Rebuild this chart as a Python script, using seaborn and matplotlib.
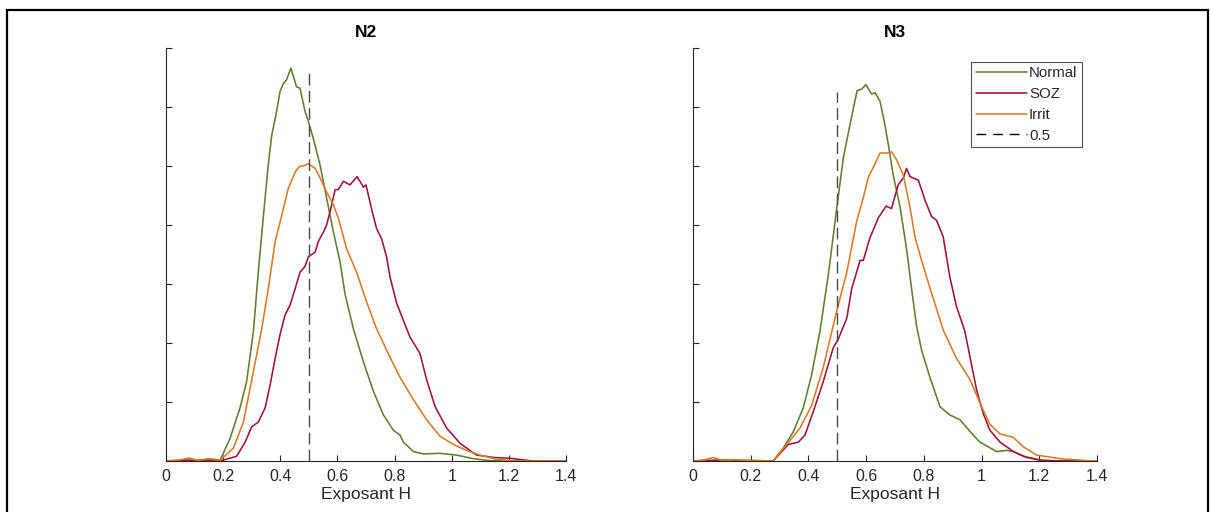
import matplotlib
matplotlib.use("Agg")
import matplotlib.pyplot as plt
import seaborn as sns
import pandas as pd
from matplotlib.patches import Rectangle
from matplotlib.lines import Line2D

sns.set_theme(style="white")
plt.rcParams['font.family'] = ['Liberation Sans', 'DejaVu Sans']

# ---------------- data ----------------
panels = ["N2", "N3"]
series = ["Normal", "SOZ", "Irrit"]
colors = {"Normal": "#5E8030", "SOZ": "#A3113E", "Irrit": "#DB7A26"}

# N2
n2_normal_x = [0, 0.05, 0.08, 0.11, 0.15, 0.19, 0.224, 0.259, 0.282, 0.306, 0.323, 0.341, 0.358, 0.370, 0.387,
               0.399, 0.411, 0.422, 0.437, 0.457, 0.469, 0.487, 0.498, 0.516, 0.539, 0.562, 0.586, 0.609,
               0.627, 0.656, 0.691, 0.726, 0.761, 0.796, 0.819, 0.831, 0.866, 0.901, 0.959, 1.017, 1.076,
               1.134, 1.2, 1.4]
n2_normal_y = [0, 0.005, 0.02, 0.005, 0.015, 0.01, 0.19, 0.45, 0.67, 1.10, 1.60, 2.08, 2.51, 2.76, 2.96,
               3.13, 3.20, 3.23, 3.33, 3.17, 3.16, 2.96, 2.88, 2.73, 2.51, 2.23, 1.94, 1.69,
               1.41, 1.12, 0.84, 0.59, 0.39, 0.26, 0.22, 0.16, 0.08, 0.06, 0.065, 0.05, 0.02,
               0.003, 0, 0]
n2_irrit_x = [0, 0.05, 0.08, 0.11, 0.15, 0.189, 0.236, 0.271, 0.306, 0.335, 0.358, 0.382, 0.405, 0.428, 0.452,
              0.469, 0.481, 0.498, 0.522, 0.539, 0.562, 0.586, 0.603, 0.632, 0.667, 0.702, 0.737, 0.784,
              0.819, 0.866, 0.912, 0.959, 1.006, 1.052, 1.099, 1.157, 1.22, 1.4]
n2_irrit_y = [0, 0.01, 0.025, 0.005, 0.02, 0.005, 0.11, 0.33, 0.76, 1.12, 1.46, 1.86, 2.08, 2.31, 2.45,
              2.50, 2.50, 2.52, 2.48, 2.40, 2.28, 2.17, 2.06, 1.80, 1.60, 1.35, 1.12, 0.88,
              0.71, 0.52, 0.35, 0.21, 0.14, 0.09, 0.05, 0.015, 0, 0]
n2_soz_x = [0, 0.1, 0.189, 0.247, 0.277, 0.300, 0.323, 0.347, 0.364, 0.382, 0.399, 0.417, 0.434, 0.452,
            0.469, 0.487, 0.498, 0.522, 0.533, 0.551, 0.562, 0.574, 0.592, 0.603, 0.621, 0.644, 0.669,
            0.691, 0.700, 0.720, 0.737, 0.755, 0.772, 0.784, 0.807, 0.831, 0.854, 0.889, 0.912, 0.942,
            0.982, 1.029, 1.087, 1.146, 1.204, 1.274, 1.33, 1.4]
n2_soz_y = [0, 0.005, 0, 0.04, 0.16, 0.29, 0.33, 0.45, 0.64, 0.87, 1.07, 1.24, 1.32, 1.46,
            1.60, 1.65, 1.73, 1.77, 1.86, 1.94, 2.00, 2.11, 2.30, 2.30, 2.37, 2.34, 2.41,
            2.32, 2.34, 2.13, 1.97, 1.88, 1.73, 1.56, 1.34, 1.19, 1.05, 0.91, 0.69, 0.46,
            0.28, 0.15, 0.05, 0.03, 0.023, 0.003, 0, 0]

# N3
n3_normal_x = [0, 0.05, 0.1, 0.15, 0.2, 0.278, 0.313, 0.348, 0.382, 0.411, 0.440, 0.469, 0.498, 0.521, 0.544,
               0.561, 0.569, 0.584, 0.599, 0.619, 0.631, 0.648, 0.665, 0.677, 0.694, 0.717, 0.740, 0.758,
               0.775, 0.792, 0.821, 0.856, 0.890, 0.925, 0.960, 0.994, 1.052, 1.087, 1.110, 1.145, 1.202,
               1.26, 1.4]
n3_normal_y = [0, 0.005, 0.01, 0.003, 0.005, 0, 0.11, 0.25, 0.45, 0.73, 1.10, 1.58, 2.14, 2.57, 2.85,
               3.05, 3.14, 3.15, 3.19, 3.11, 3.12, 3.05, 2.85, 2.68, 2.42, 2.16, 1.80, 1.45,
               1.14, 0.94, 0.71, 0.46, 0.39, 0.35, 0.25, 0.16, 0.08, 0.09, 0.08, 0.04, 0.01,
               0, 0]
n3_irrit_x = [0, 0.04, 0.07, 0.1, 0.15, 0.2, 0.278, 0.325, 0.371, 0.411, 0.451, 0.498, 0.533, 0.567, 0.590,
              0.607, 0.625, 0.648, 0.671, 0.688, 0.706, 0.729, 0.752, 0.769, 0.792, 0.827, 0.867, 0.913,
              0.960, 1.000, 1.029, 1.064, 1.110, 1.145, 1.191, 1.272, 1.364, 1.4]
n3_irrit_y = [0, 0.01, 0.03, 0.005, 0.01, 0.005, 0, 0.14, 0.28, 0.47, 0.79, 1.27, 1.60, 2.03, 2.23,
              2.40, 2.49, 2.61, 2.61, 2.62, 2.55, 2.42, 2.15, 1.90, 1.70, 1.42, 1.11, 0.87,
              0.69, 0.46, 0.31, 0.23, 0.20, 0.12, 0.05, 0.02, 0.003, 0]
n3_soz_x = [0, 0.1, 0.2, 0.278, 0.330, 0.365, 0.388, 0.417, 0.451, 0.486, 0.503, 0.533, 0.550, 0.579,
            0.590, 0.613, 0.642, 0.669, 0.688, 0.711, 0.729, 0.740, 0.752, 0.781, 0.804, 0.827,
            0.844, 0.867, 0.890, 0.913, 0.942, 0.960, 0.983, 1.006, 1.029, 1.064, 1.110, 1.156, 1.21,
            1.3, 1.4]
n3_soz_y = [0, 0.005, 0, 0, 0.14, 0.16, 0.22, 0.42, 0.67, 0.96, 1.03, 1.21, 1.46, 1.70,
            1.70, 1.89, 2.06, 2.16, 2.14, 2.34, 2.40, 2.48, 2.41, 2.38, 2.21, 2.07,
            2.04, 1.90, 1.56, 1.31, 1.10, 0.88, 0.60, 0.40, 0.26, 0.16, 0.08, 0.03, 0.003,
            0, 0]

ref_x = 0.5
ref_top = {"N2": 3.30, "N3": 3.13}

x_ticks = [0, 0.2, 0.4, 0.6, 0.8, 1.0, 1.2, 1.4]
x_tick_labels = ["0", "0.2", "0.4", "0.6", "0.8", "1", "1.2", "1.4"]
y_ticks = [0, 0.5, 1.0, 1.5, 2.0, 2.5, 3.0, 3.5]

data = {
    "N2": {"Normal": (n2_normal_x, n2_normal_y), "SOZ": (n2_soz_x, n2_soz_y), "Irrit": (n2_irrit_x, n2_irrit_y)},
    "N3": {"Normal": (n3_normal_x, n3_normal_y), "SOZ": (n3_soz_x, n3_soz_y), "Irrit": (n3_irrit_x, n3_irrit_y)},
}

rows = []
for p in panels:
    for s in series:
        xs, ys = data[p][s]
        for xv, yv in zip(xs, ys):
            rows.append({"panel": p, "series": s, "x": xv, "y": yv})
df = pd.DataFrame(rows)

# ---------------- figure ----------------
fig = plt.figure(figsize=(12.10, 5.12), dpi=100)
fig.patch.set_facecolor("white")
ax_pos = {"N2": [166 / 1210, 51 / 512, 400 / 1210, 413 / 512],
          "N3": [693 / 1210, 51 / 512, 404 / 1210, 413 / 512]}

for p in panels:
    ax = fig.add_axes(ax_pos[p])
    sub = df[df.panel == p]
    sns.lineplot(data=sub, x="x", y="y", hue="series", hue_order=series, palette=colors,
                 estimator=None, sort=False, linewidth=1.15, ax=ax, legend=False)
    ax.plot([ref_x, ref_x], [0, ref_top[p]], color="#4a4a4a", linestyle=(0, (8.5, 3.8)), linewidth=1.0)
    ax.set_xlim(0, 1.4)
    ax.set_ylim(0, 3.5)
    ax.set_xticks(x_ticks)
    ax.set_xticklabels(x_tick_labels)
    ax.set_yticks(y_ticks)
    ax.set_yticklabels([])
    ax.tick_params(axis="both", direction="in", length=4, width=0.8, colors="#262626",
                   labelsize=11.5, pad=6, left=True, bottom=True)
    for side in ["top", "right"]:
        ax.spines[side].set_visible(False)
    for side in ["left", "bottom"]:
        ax.spines[side].set_color("#262626")
        ax.spines[side].set_linewidth(0.8)
    ax.set_facecolor("white")
    ax.set_xlabel("Exposant H", fontsize=12.5, color="#262626", labelpad=2)
    ax.set_ylabel("")
    ax.set_title(p, fontsize=12.5, fontweight="bold", color="black", pad=8)
    ax.grid(False)
    if p == "N3":
        handles = [Line2D([], [], color=colors[s], linewidth=1.15) for s in series]
        handles.append(Line2D([], [], color="black", linestyle=(0, (7, 5)), linewidth=1.0))
        leg = ax.legend(handles, series + ["0.5"], loc="upper right", bbox_to_anchor=(0.9625, 0.9665),
                        fontsize=10.8, frameon=True, fancybox=False, handlelength=3.4,
                        handletextpad=0.15, borderpad=0.3, labelspacing=0.45, borderaxespad=0)
        leg.get_frame().set_edgecolor("#262626")
        leg.get_frame().set_linewidth(0.8)

fig.patches.append(Rectangle((7 / 1210, -0.1), 1201 / 1210, 1.1 - 10 / 512, transform=fig.transFigure,
                             fill=False, edgecolor="black", linewidth=1.6, figure=fig))

fig.savefig("out.png", dpi=100, facecolor="white")
